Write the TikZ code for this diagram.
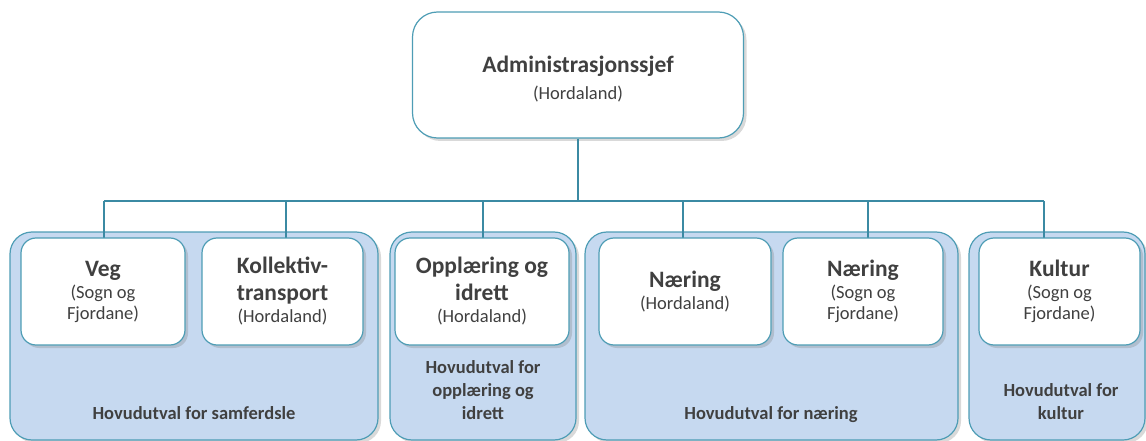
\documentclass[tikz,border=0pt]{standalone}
\usepackage{fontspec}
\setmainfont{Carlito}
\usetikzlibrary{shadows}
\definecolor{linecol}{HTML}{3B8AA3}
\definecolor{grpfill}{HTML}{C6D9F0}
\definecolor{grpline}{HTML}{4E9DB5}
\definecolor{txtcol}{HTML}{404040}
\newcommand{\subfont}{\fontsize{18.5}{21}\selectfont\mdseries}

\begin{document}
\begin{tikzpicture}[x=1pt,y=-1pt,
    boxshadow/.style={drop shadow={opacity=.3,shadow xshift=3pt,shadow yshift=-3pt}},
    grp/.style={draw=grpline,fill=grpfill,line width=1.2pt,rounded corners=22pt,
      minimum height=208pt,boxshadow},
    unit/.style={draw=grpline,fill=white,line width=1.2pt,rounded corners=15pt,
      minimum height=107pt,inner sep=0pt,align=center,text=txtcol,
      font=\bfseries\fontsize{23.5}{27}\selectfont,boxshadow},
    grplabel/.style={anchor=south,text depth=0pt,inner sep=0pt,align=center,
      text=txtcol,font=\bfseries\fontsize{18.5}{23}\selectfont}]

  \useasboundingbox (0,0) rectangle (1146,441);

  \begin{scope}[every node/.style={grp}]
    \node[minimum width=368pt] (samf)  at (194,336)    {};
    \node[minimum width=186pt] (oppl)  at (483,336)    {};
    \node[minimum width=373pt] (naer)  at (771.5,336)  {};
    \node[minimum width=176pt] (kult)  at (1057,336)   {};
  \end{scope}

  \begin{scope}[every node/.style={grplabel}]
    \node (samflab) at (194,420)  {Hovudutval for samferdsle};
    \node (oppllab) at (483,420)  {Hovudutval for\\opplæring og\\idrett};
    \node (naerlab) at (771,420)  {Hovudutval for næring};
    \node (kultlab) at (1061,420) {Hovudutval for\\kultur};
  \end{scope}

  \node[unit,minimum width=331pt,minimum height=126pt,rounded corners=25pt] (adm) at (578,75)
    {\rule{0pt}{25pt}Administrasjonssjef\\\subfont (Hordaland)};

  \coordinate (bus) at (0,201);
  \coordinate (kulturtop) at (1044,238);

  \begin{scope}[every edge/.style={draw=linecol,line width=1.8pt}]
    \path (adm.south) edge (adm.south |- bus);
    \path (104,201) edge (kulturtop |- bus);
    \path (104,238) edge (104,201);
    \path (286,238) edge (286,201);
    \path (483,238) edge (483,201);
    \path (683,238) edge (683,201);
    \path (868,238) edge (868,201);
    \path (kulturtop) edge (kulturtop |- bus);
  \end{scope}

  \begin{scope}[every node/.style={unit}]
    \node[minimum width=164pt] (veg)   at (103,291.5)   {Veg\\[-5pt]\subfont (Sogn og\\[-6pt]\subfont Fjordane)};
    \node[minimum width=161pt] (koll)  at (282.5,291.5) {Kollektiv-\\transport\\[-5pt]\subfont (Hordaland)};
    \node[minimum width=174pt] (oppld) at (482,291.5)   {Opplæring og\\idrett\\[-5pt]\subfont (Hordaland)};
    \node[minimum width=172pt] (naerh) at (685,291.5)   {Næring\\[-5pt]\subfont (Hordaland)};
    \node[minimum width=160pt] (naers) at (863,291.5)   {Næring\\[-5pt]\subfont (Sogn og\\[-6pt]\subfont Fjordane)};
    \node[minimum width=161pt] (kultu) at (1059.5,291.5){Kultur\\[-5pt]\subfont (Sogn og\\[-6pt]\subfont Fjordane)};
  \end{scope}

\end{tikzpicture}
\end{document}
